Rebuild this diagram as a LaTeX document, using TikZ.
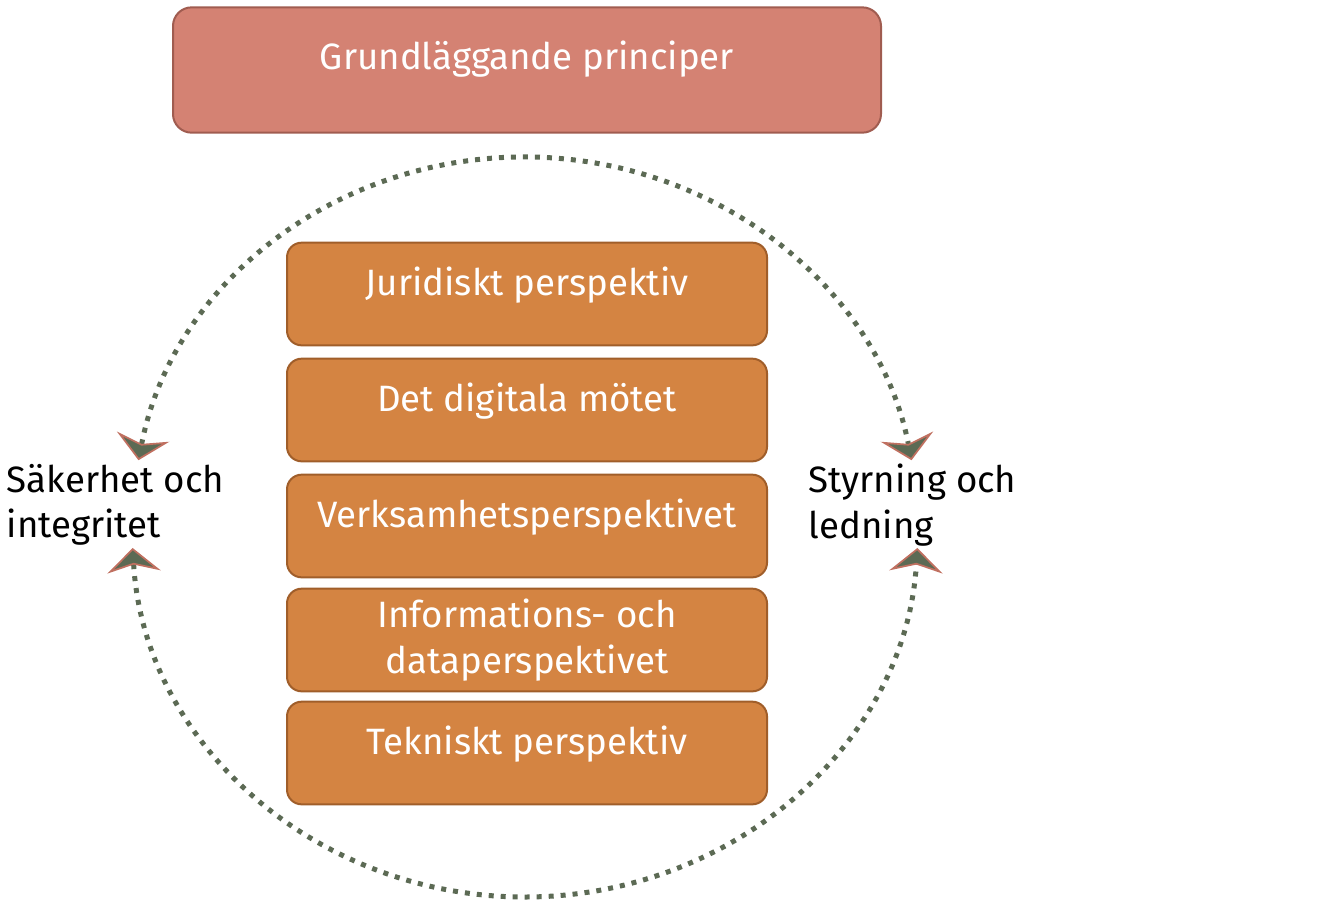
\documentclass[tikz,border=0pt]{standalone}
\usepackage{fontspec}
\setmainfont{Fira Sans}
\usepackage{tikz}
\usetikzlibrary{ arrows.meta, % For the chevron tips
                 positioning, % For easy node-relative placements
               }

\definecolor{topfill}{RGB}{212,130,115}
\definecolor{topline}{RGB}{160,92,80}
\definecolor{boxfill}{RGB}{212,132,66}
\definecolor{boxline}{RGB}{160,94,42}
\definecolor{dotgreen}{RGB}{92,106,84}
\definecolor{tipred}{RGB}{192,112,96}

\tikzset{
  chevtip/.tip={Stealth[length=18pt, width=40pt, inset=5.5pt, line width=1.3pt,
                        color=tipred, fill=dotgreen]},
  topbox/.style={draw=topline, fill=topfill, line width=1.5pt, rounded corners=14pt,
                 minimum width=531pt, minimum height=94pt},
  persbox/.style={draw=boxline, fill=boxfill, line width=1.5pt, rounded corners=11pt,
                  minimum width=360pt, minimum height=77pt},
  boxtext/.style={text=white, align=center, font=\fontsize{27.5}{34}\selectfont},
  sidetext/.style={align=left, anchor=west, font=\fontsize{27.5}{34}\selectfont},
  chevron/.style={line width=3.75pt, dotgreen, dash pattern=on 3.75pt off 5.25pt,
                  chevtip-chevtip},
}

\begin{document}
\begin{tikzpicture}[x=0.75pt, y=-0.75pt] % pixel grid of the drawing
  \useasboundingbox (0,0) rectangle (1318,908);

  \node[topbox] (grund) at (527,70) {};
  \node[boxtext] (grund_t) at ([yshift=8pt]grund) {Grundläggande principer};

  \node[persbox] (jur) at (527,294) {};
  \node[persbox] (mote) at (527,410) {};
  \node[persbox] (verks) at (527,526) {};
  \node[persbox] (info) at (527,640) {};
  \node[persbox] (tekn) at (527,753) {};

  \node[boxtext] (jur_t) at ([yshift=7pt]jur) {Juridiskt perspektiv};
  \node[boxtext] (mote_t) at ([yshift=7pt]mote) {Det digitala mötet};
  \node[boxtext] (verks_t) at ([yshift=7pt]verks) {Verksamhetsperspektivet};
  \node[boxtext] (info_t) at ([yshift=0pt]info) {Informations- och\\dataperspektivet};
  \node[boxtext] (tekn_t) at ([yshift=7pt]tekn) {Tekniskt perspektiv};

  \node[sidetext] (saker) at (2,505) {Säkerhet och\\integritet};
  \node[sidetext] (styr) at (804,505) {Styrning och\\ledning};

  % the ring round the stack
  \coordinate (ring_c) at (525,527);
  \coordinate (ring_ul) at ([shift={(-169.6:393 and 370)}]ring_c);
  \coordinate (ring_ll) at ([shift={(176.75:393 and 370)}]ring_c);

  \draw[chevron] (ring_ul) arc[start angle=-169.6, end angle=-10.4, x radius=393, y radius=370];
  \draw[chevron] (ring_ll) arc[start angle=176.75, end angle=3.25, x radius=393, y radius=370];

\end{tikzpicture}
\end{document}
